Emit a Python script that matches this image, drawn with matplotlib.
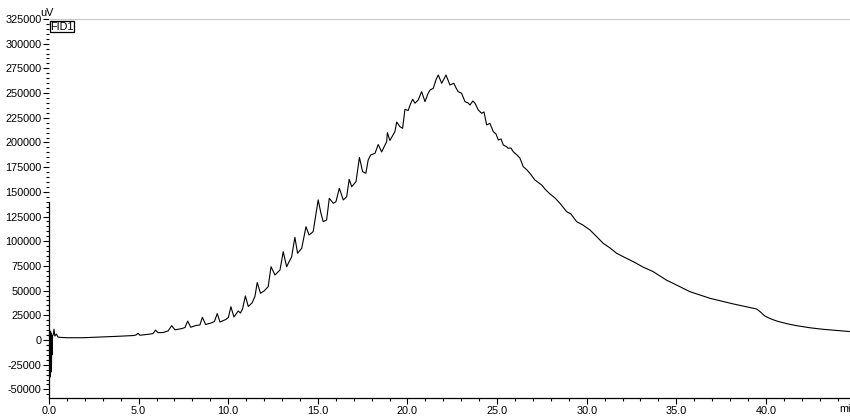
import matplotlib
matplotlib.use('Agg')
import matplotlib.pyplot as plt
from matplotlib.ticker import MultipleLocator, FormatStrFormatter

plt.rcParams['font.family'] = ['Liberation Sans', 'DejaVu Sans']

# FID1 trace: retention time (min) and detector signal (uV)
time_min = [
    0.03, 0.06, 0.07, 0.09, 0.11, 0.12, 0.14, 0.16, 0.17, 0.20,
    0.25, 0.28, 0.33, 0.42, 0.50, 0.61, 0.99, 1.91, 2.85, 3.78,
    4.70, 4.85, 4.97, 5.08, 5.63, 5.80, 5.95, 6.08, 6.36, 6.64,
    6.85, 7.03, 7.42, 7.59, 7.74, 7.91, 8.20, 8.42, 8.56, 8.74,
    9.04, 9.23, 9.39, 9.54, 9.87, 10.01, 10.15, 10.32, 10.56, 10.68,
    10.80, 10.96, 11.12, 11.33, 11.49, 11.62, 11.80, 12.00, 12.23, 12.39,
    12.61, 12.89, 13.07, 13.26, 13.54, 13.72, 13.87, 14.10, 14.34, 14.51,
    14.74, 15.02, 15.17, 15.30, 15.49, 15.64, 15.86, 16.01, 16.20, 16.42,
    16.61, 16.75, 16.89, 17.13, 17.32, 17.50, 17.68, 17.81, 17.95, 18.19,
    18.37, 18.56, 18.84, 18.88, 19.02, 19.30, 19.40, 19.58, 19.73, 19.86,
    20.04, 20.17, 20.29, 20.42, 20.60, 20.79, 20.98, 21.14, 21.26, 21.44,
    21.59, 21.72, 21.91, 22.01, 22.15, 22.26, 22.37, 22.59, 22.71, 22.83,
    23.02, 23.21, 23.38, 23.49, 23.65, 23.77, 23.95, 24.14, 24.27, 24.42,
    24.60, 24.79, 24.94, 25.07, 25.22, 25.35, 25.53, 25.62, 25.77, 25.90,
    26.11, 26.28, 26.46, 26.67, 26.83, 27.11, 27.49, 27.67, 27.91, 28.23,
    28.51, 28.88, 29.12, 29.44, 29.79, 30.18, 30.52, 30.92, 31.30, 31.67,
    32.13, 32.60, 33.14, 33.71, 34.46, 34.64, 35.76, 36.88, 38.18, 39.48,
    39.66, 39.94, 40.22, 40.60, 41.12, 41.71, 42.45, 43.20, 44.65,
]
signal_uv = [
    2000, 8000, -37500, 9000, -32500, 7000, -26000, 5000, -15000, 4000,
    6000, 11000, 4000, 6000, 3000, 2700, 2300, 2300, 3000, 3700,
    4500, 5000, 6800, 4800, 6000, 6500, 10000, 7400, 7600, 9100,
    14500, 10300, 11600, 12700, 19200, 12900, 14700, 15200, 23000, 15700,
    17200, 18700, 26800, 18200, 20800, 22800, 33700, 23300, 29400, 27300,
    31400, 44600, 33900, 37500, 44000, 58200, 47300, 49600, 54000, 74200,
    65800, 70900, 89400, 74200, 84300, 104000, 87800, 92800, 114700, 106300,
    109700, 141800, 128600, 119800, 121500, 143500, 138400, 140000, 153600, 141800,
    145100, 162700, 155200, 160300, 184800, 170400, 168800, 182300, 187300, 189000,
    197900, 190400, 200800, 209900, 202000, 210900, 220700, 216000, 214300, 233600,
    232300, 239000, 243700, 239700, 243000, 251400, 241300, 249100, 253100, 254800,
    263300, 268300, 259900, 263300, 268300, 263300, 258200, 259900, 255200, 251400,
    249800, 241300, 240000, 237900, 242000, 239700, 232900, 229500, 230900, 217700,
    219400, 210900, 208600, 202500, 203500, 197400, 195700, 194100, 194400, 190700,
    187300, 184000, 175500, 172100, 168800, 162000, 156900, 152900, 148500, 143800,
    138400, 129900, 127600, 119800, 116400, 111400, 105300, 97900, 93200, 87800,
    83500, 79300, 73900, 69200, 60500, 59000, 48900, 42200, 36500, 31400,
    28900, 24300, 21800, 19200, 16700, 14500, 12400, 10800, 8600,
]

x_max = 44.69
y_min, y_max = -58700, 325000
spine_top = 140000

fig = plt.figure(figsize=(8.5, 4.16), dpi=100)
ax = fig.add_axes([0.0576, 0.0433, 0.9424, 0.9111])

ax.plot(time_min, signal_uv, color='black', linewidth=0.8)

ax.set_xlim(0, x_max)
ax.set_ylim(y_min, y_max)

ax.spines['right'].set_visible(False)
ax.spines['top'].set_color('#c8c8c8')
ax.spines['top'].set_linewidth(0.8)
ax.spines['left'].set_bounds(y_min, spine_top)
ax.spines['left'].set_linewidth(0.9)
ax.spines['bottom'].set_linewidth(0.9)

ax.xaxis.set_major_locator(MultipleLocator(5))
ax.xaxis.set_minor_locator(MultipleLocator(1))
ax.xaxis.set_major_formatter(FormatStrFormatter('%.1f'))
ax.yaxis.set_major_locator(MultipleLocator(25000))
ax.yaxis.set_minor_locator(MultipleLocator(5000))
ax.yaxis.set_major_formatter(FormatStrFormatter('%d'))

ax.tick_params(axis='both', which='major', direction='out', length=4.5,
               width=0.8, labelsize=7.8, pad=0.8, colors='black')
ax.tick_params(axis='both', which='minor', direction='out', length=2.3,
               width=0.8)
ax.tick_params(axis='x', which='major', pad=1.2)

# unit labels on each axis end
ax.text(-0.002, 1.003, 'uV', transform=ax.transAxes, fontsize=7.8,
        ha='center', va='bottom')
ax.text(0.9863, -0.016, 'mi', transform=ax.transAxes, fontsize=7.8,
        ha='left', va='top', clip_on=False)

# signal name tag
ax.text(0.0015, 0.993, 'FID1', transform=ax.transAxes, fontsize=7.8,
        ha='left', va='top',
        bbox=dict(boxstyle='square,pad=0.06', facecolor='white',
                  edgecolor='black', linewidth=0.9))

fig.savefig('out.png', dpi=100)
